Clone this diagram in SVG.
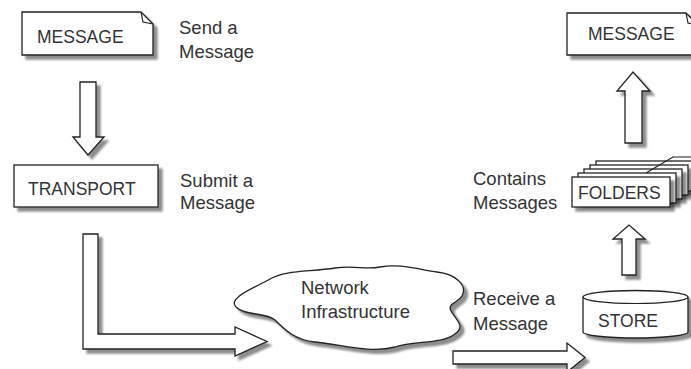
<svg xmlns="http://www.w3.org/2000/svg" width="691" height="369" viewBox="0 0 691 369">
<defs>
<style>
.shape{fill:#fff;stroke:#222;stroke-width:1.3;stroke-linejoin:miter}
.line{fill:none;stroke:#222;stroke-width:1.2}
.box{font-family:"Liberation Sans",Arial,sans-serif;font-size:17.5px;fill:#333}
.lbl{font-family:"Liberation Sans",Arial,sans-serif;font-size:18.5px;fill:#333}
</style>
<filter id="sh" x="-10%" y="-15%" width="130%" height="150%">
<feGaussianBlur in="SourceAlpha" stdDeviation="1.3"/>
<feOffset dx="4" dy="4"/>
<feComponentTransfer><feFuncA type="linear" slope="0.45"/></feComponentTransfer>
<feMerge><feMergeNode/><feMergeNode in="SourceGraphic"/></feMerge>
</filter>
</defs>
<rect width="691" height="369" fill="#fff"/>

<g id="connectors">
<polygon class="shape" filter="url(#sh)" points="80,82 96,82 96,137 104,137 88,155 73,137 80,137"/>
<polygon class="shape" filter="url(#sh)" points="83,234 98,234 98,334 235,334 235,327 267,341.5 235,356 235,349 83,349"/>
<polygon class="shape" filter="url(#sh)" points="453,351 567,351 567,343 585,357.5 567,372 567,364 453,364"/>
<polygon class="shape" filter="url(#sh)" points="622,275 622,239 613,239 629,225 645,239 636,239 636,275"/>
<polygon class="shape" filter="url(#sh)" points="625,143 625,91 617,91 633,72 650,91 642,91 642,143"/>
</g>

<g id="message-send">
<path class="shape" filter="url(#sh)" d="M22,12 H141 L153,24 V55 H22 Z"/>
<polyline class="line" points="141,12 143,22 153,24"/>
<text class="box" x="37" y="43">MESSAGE</text>
<text class="lbl" x="179" y="34">Send a</text>
<text class="lbl" x="179" y="58">Message</text>
</g>

<g id="transport">
<rect class="shape" filter="url(#sh)" x="14" y="165" width="144" height="42"/>
<text class="box" x="28" y="195">TRANSPORT</text>
<text class="lbl" x="180" y="187">Submit a</text>
<text class="lbl" x="180" y="209">Message</text>
</g>

<g id="network">
<path class="shape" filter="url(#sh)" d="M270,279 C285,270 310,272 335,268 C355,265 365,270 380,267 C400,263 420,270 437,272 C455,274 468,285 462,296 C458,303 447,303 451,311 C456,320 466,326 455,334 C440,345 415,340 395,347 C370,354 340,344 315,342 C295,340 285,330 275,320 C265,312 245,316 236,307 C228,298 250,290 270,279 Z"/>
<text class="lbl" x="301" y="294">Network</text>
<text class="lbl" x="301" y="318">Infrastructure</text>
</g>

<g id="receive-label">
<text class="lbl" x="473" y="305">Receive a</text>
<text class="lbl" x="473" y="330">Message</text>
</g>

<g id="store">
<path class="shape" filter="url(#sh)" d="M583,297 V332 A52.5,6 0 0 0 688,332 V297 A52.5,6.5 0 0 0 583,297 Z"/>
<path class="line" d="M583,297 A52.5,6.5 0 0 0 688,297"/>
<text class="box" x="598" y="327">STORE</text>
</g>

<g id="folders">
<rect class="shape" filter="url(#sh)" x="596" y="161" width="98" height="30"/>
<rect class="shape" filter="url(#sh)" x="590" y="165" width="98" height="30"/>
<rect class="shape" filter="url(#sh)" x="584" y="169" width="98" height="30"/>
<rect class="shape" filter="url(#sh)" x="578" y="173" width="98" height="30"/>
<polyline class="line" points="646,173 673,157 695,157"/>
<rect class="shape" filter="url(#sh)" x="572" y="177" width="98" height="30"/>
<text class="box" x="578" y="199">FOLDERS</text>
<text class="lbl" x="473" y="185">Contains</text>
<text class="lbl" x="473" y="209">Messages</text>
</g>

<g id="message-read">
<path class="shape" filter="url(#sh)" d="M567,13 H686 L698,25 V55 H567 Z"/>
<polyline class="line" points="686,13 688,23 698,25"/>
<text class="box" x="588" y="40">MESSAGE</text>
</g>
</svg>
